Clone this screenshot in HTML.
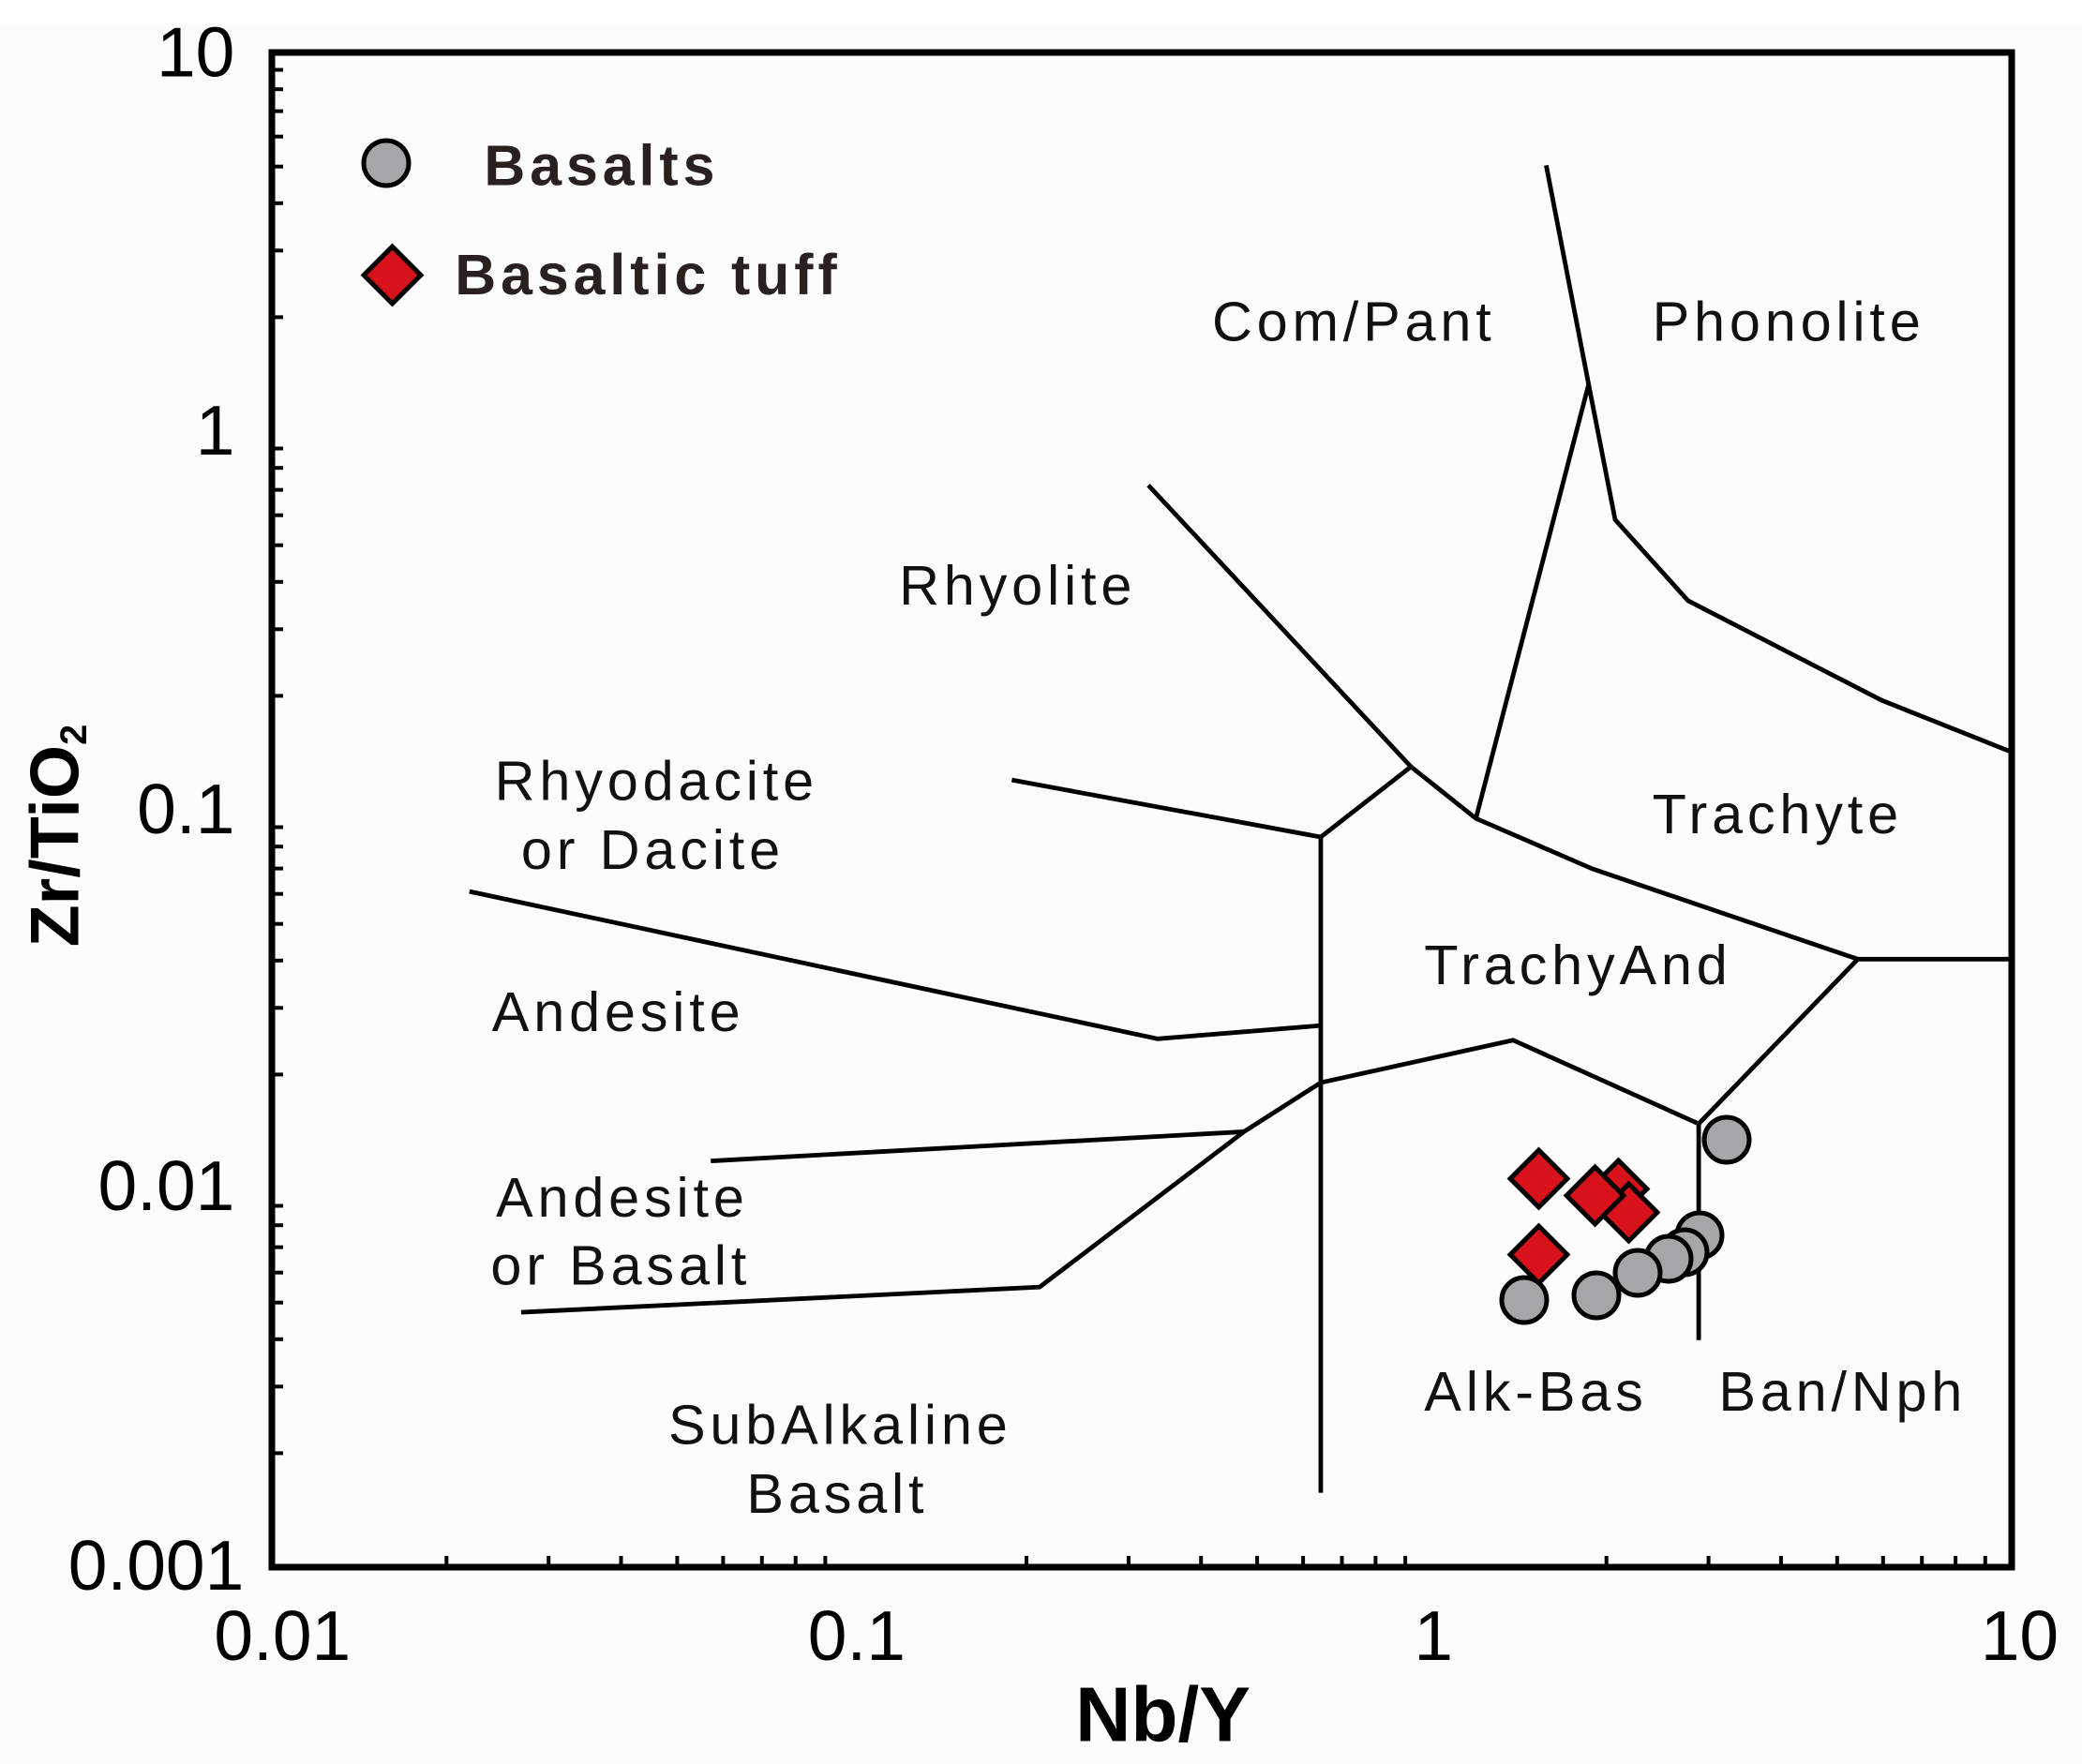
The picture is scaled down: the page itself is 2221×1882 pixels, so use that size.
<!DOCTYPE html>
<html><head><meta charset="utf-8"><style>
html,body{margin:0;padding:0;background:#fff;}
svg{display:block;}
text{font-family:"Liberation Sans",sans-serif;}
</style></head><body>
<svg width="2221" height="1882" viewBox="0 0 2221 1882" xmlns="http://www.w3.org/2000/svg">
<rect x="0" y="0" width="2221" height="1882" fill="#fcfcfc"/>
<rect x="0" y="0" width="2221" height="25" fill="#fff"/>
<!-- ticks -->
<g stroke="#000" stroke-width="4">
<line x1="476.3" y1="1672" x2="476.3" y2="1660"/><line x1="585.2" y1="1672" x2="585.2" y2="1660"/><line x1="662.5" y1="1672" x2="662.5" y2="1660"/><line x1="722.4" y1="1672" x2="722.4" y2="1660"/><line x1="771.4" y1="1672" x2="771.4" y2="1660"/><line x1="812.8" y1="1672" x2="812.8" y2="1660"/><line x1="848.7" y1="1672" x2="848.7" y2="1660"/><line x1="880.4" y1="1672" x2="880.4" y2="1660"/>
<line x1="1095" y1="1672" x2="1095" y2="1660"/><line x1="1203.9" y1="1672" x2="1203.9" y2="1660"/><line x1="1281.2" y1="1672" x2="1281.2" y2="1660"/><line x1="1341.1" y1="1672" x2="1341.1" y2="1660"/><line x1="1390.1" y1="1672" x2="1390.1" y2="1660"/><line x1="1431.5" y1="1672" x2="1431.5" y2="1660"/><line x1="1467.4" y1="1672" x2="1467.4" y2="1660"/><line x1="1499.1" y1="1672" x2="1499.1" y2="1660"/>
<line x1="1713.7" y1="1672" x2="1713.7" y2="1660"/><line x1="1822.6" y1="1672" x2="1822.6" y2="1660"/><line x1="1899.9" y1="1672" x2="1899.9" y2="1660"/><line x1="1959.8" y1="1672" x2="1959.8" y2="1660"/><line x1="2008.8" y1="1672" x2="2008.8" y2="1660"/><line x1="2050.2" y1="1672" x2="2050.2" y2="1660"/><line x1="2086.1" y1="1672" x2="2086.1" y2="1660"/><line x1="2117.8" y1="1672" x2="2117.8" y2="1660"/>
</g>
<g stroke="#000" stroke-width="4" id="yt">
<line x1="290" y1="74.5" x2="302" y2="74.5"/><line x1="290" y1="95.2" x2="302" y2="95.2"/><line x1="290" y1="118.6" x2="302" y2="118.6"/><line x1="290" y1="145.7" x2="302" y2="145.7"/><line x1="290" y1="177.7" x2="302" y2="177.7"/><line x1="290" y1="216.8" x2="302" y2="216.8"/><line x1="290" y1="267.3" x2="302" y2="267.3"/><line x1="290" y1="338.4" x2="302" y2="338.4"/>
</g>
<use href="#yt" y="404"/><use href="#yt" y="808"/><use href="#yt" y="1212"/>
<!-- frame -->
<rect x="290" y="56" width="1856" height="1616" fill="none" stroke="#000" stroke-width="7"/>
<!-- field lines -->
<g transform="translate(290,56) scale(1.4146,1.4163) translate(-204,-40)" fill="none" stroke="#000" stroke-width="3.4" stroke-linejoin="miter">
<polyline points="1165,125 1197,290 1217,392 1272,453 1418,528 1516,567"/>
<polyline points="1197,290 1112,617"/>
<polyline points="865,366 1063,578 1112,617 1200,655 1400,723 1516,723"/>
<polyline points="1063,578 995,631 995,1125"/>
<polyline points="762,588 995,631"/>
<polyline points="353,672 872,783 995,773"/>
<polyline points="995,816 1140,784 1280,847 1400,723"/>
<polyline points="1280,847 1280,1010"/>
<polyline points="995,816 937,853 783,970 392,989"/>
<polyline points="535,875 937,853"/>
</g>
<!-- labels -->
<g transform="translate(290,56) scale(1.4146,1.4163) translate(-204,-40)" font-size="42" fill="#111" letter-spacing="3.4">
<text x="913" y="257">Com/Pant</text>
<text x="1245" y="257">Phonolite</text>
<text x="677" y="456">Rhyolite</text>
<text x="372" y="603">Rhyodacite</text>
<text x="392" y="655">or Dacite</text>
<text x="1245" y="628">Trachyte</text>
<text x="1073" y="742">TrachyAnd</text>
<text x="370" y="777">Andesite</text>
<text x="373" y="917">Andesite</text>
<text x="369" y="968">or Basalt</text>
<text x="503" y="1088">SubAlkaline</text>
<text x="562" y="1140">Basalt</text>
<text x="1073" y="1063">Alk-Bas</text>
<text x="1295" y="1063">Ban/Nph</text>
<g letter-spacing="3.5" font-weight="bold" fill="#2a2020" font-size="43">
<text x="364" y="140">Basalts</text>
<text x="342" y="222">Basaltic tuff</text>
</g>
<g font-size="53" letter-spacing="0" fill="#000">
<text x="176" y="58" text-anchor="end">10</text>
<text x="176" y="343" text-anchor="end">1</text>
<text x="176" y="628" text-anchor="end">0.1</text>
<text x="176" y="912" text-anchor="end">0.01</text>
<text x="183" y="1198" text-anchor="end">0.001</text>
<text x="212" y="1251" text-anchor="middle">0.01</text>
<text x="645" y="1251" text-anchor="middle">0.1</text>
<text x="1080" y="1251" text-anchor="middle">1</text>
<text x="1522" y="1251" text-anchor="middle">10</text>
</g>
<text x="876" y="1312" text-anchor="middle" font-size="58" font-weight="bold" letter-spacing="0" fill="#000">Nb/Y</text>
<text transform="translate(58,630) rotate(-90)" text-anchor="middle" font-size="52" font-weight="bold" letter-spacing="0" fill="#000">Zr/TiO<tspan font-size="28" dy="6">2</tspan></text>
</g>
<!-- legend markers -->
<circle cx="412" cy="174" r="24" fill="#a6a6a8" stroke="#000" stroke-width="5"/>
<rect x="397" y="272" width="43" height="43" transform="rotate(45 418.5 293.5)" fill="#d8121a" stroke="#000" stroke-width="5"/>
<!-- data -->
<g fill="#d8121a" stroke="#000" stroke-width="5">
<rect x="1705" y="1247" width="43" height="43" transform="rotate(45 1726.5 1268.5)"/>
<rect x="1716" y="1272" width="43" height="43" transform="rotate(45 1737.5 1293.5)"/>
<rect x="1680" y="1254" width="43" height="43" transform="rotate(45 1701.5 1275.5)"/>
<rect x="1620" y="1236" width="43" height="43" transform="rotate(45 1641.5 1257.5)"/>
<rect x="1620" y="1317" width="43" height="43" transform="rotate(45 1641.5 1338.5)"/>
</g>
<g fill="#a6a6a8" stroke="#000" stroke-width="5">
<circle cx="1842" cy="1216" r="24"/>
<circle cx="1813" cy="1318" r="24"/>
<circle cx="1797" cy="1336" r="24"/>
<circle cx="1780" cy="1343" r="24"/>
<circle cx="1747" cy="1358" r="24"/>
<circle cx="1703" cy="1382" r="24"/>
<circle cx="1626" cy="1387" r="24"/>
</g>
</svg>
</body></html>
